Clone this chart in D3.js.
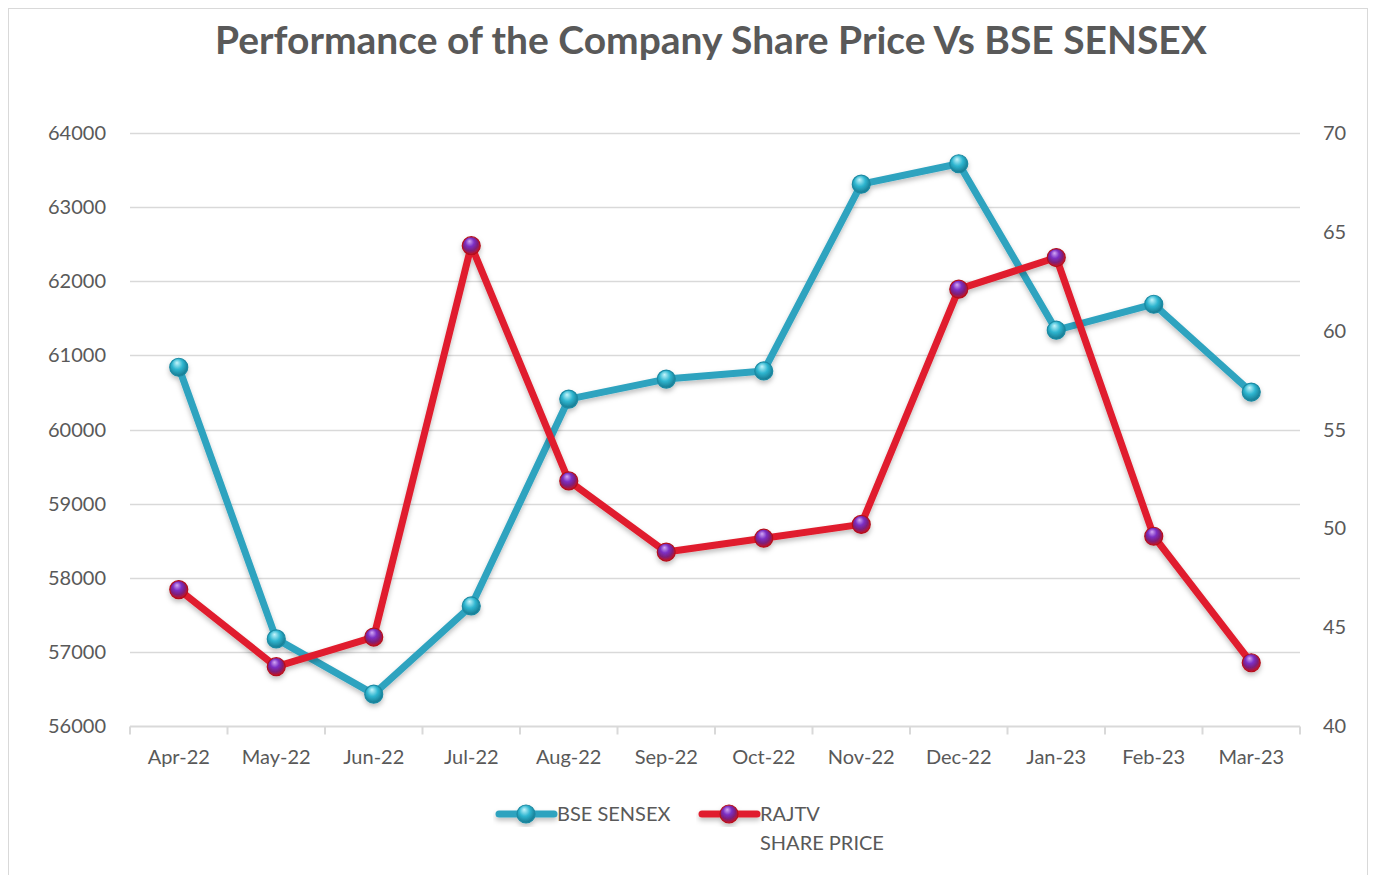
<!DOCTYPE html>
<html>
<head>
<meta charset="utf-8">
<script src="https://cdn.jsdelivr.net/npm/d3@7"></script>
<style>
  body { margin: 0; background: #fff; }
  text { font-family: Lato, "Open Sans", sans-serif; fill: #595959; }
</style>
</head>
<body>
<svg id="chart"></svg>
<script>
var width = 1375;
var height = 875;
var margin = { top: 133, right: 75, bottom: 149, left: 130 };

var months = ["Apr-22", "May-22", "Jun-22", "Jul-22", "Aug-22", "Sep-22",
              "Oct-22", "Nov-22", "Dec-22", "Jan-23", "Feb-23", "Mar-23"];
var sensex = [60840, 57175, 56430, 57620, 60410, 60680,
              60790, 63310, 63585, 61340, 61690, 60505];
var rajtv = [46.9, 43.0, 44.5, 64.3, 52.4, 48.8,
             49.5, 50.2, 62.1, 63.7, 49.6, 43.2];
var leftTicks = [56000, 57000, 58000, 59000, 60000, 61000, 62000, 63000, 64000];
var rightTicks = [40, 45, 50, 55, 60, 65, 70];

var svg = d3.select("#chart")
  .attr("width", width)
  .attr("height", height);

var defs = svg.append("defs");

function sphere(id, stops) {
  var g = defs.append("radialGradient")
    .attr("id", id)
    .attr("cx", "45%").attr("cy", "40%").attr("r", "60%")
    .attr("fx", "40%").attr("fy", "25%");
  stops.forEach(function(s) {
    g.append("stop").attr("offset", s[0]).attr("stop-color", s[1]);
  });
}
sphere("blueBall", [["0%", "#c4f5fc"], ["50%", "#2fb6d0"], ["100%", "#16778e"]]);
sphere("redBall", [["0%", "#d3a8f5"], ["40%", "#7b2fc4"], ["70%", "#7e1f7a"], ["100%", "#c8111f"]]);

var shadow = defs.append("filter").attr("id", "shadow")
  .attr("x", "-10%").attr("y", "-10%").attr("width", "120%").attr("height", "130%");
shadow.append("feDropShadow")
  .attr("dx", 0).attr("dy", 3).attr("stdDeviation", 2.5)
  .attr("flood-color", "#000").attr("flood-opacity", 0.25);

// chart border
svg.append("rect")
  .attr("x", 8.5).attr("y", 8.5)
  .attr("width", 1359).attr("height", 880)
  .attr("fill", "none")
  .attr("stroke", "#d9d9d9");

var x = d3.scaleBand()
  .domain(months)
  .range([margin.left, width - margin.right]);

var yL = d3.scaleLinear()
  .domain([56000, 64000])
  .range([height - margin.bottom, margin.top]);

var yR = d3.scaleLinear()
  .domain([40, 70])
  .range([height - margin.bottom, margin.top]);

// gridlines
svg.append("g")
  .selectAll("line")
  .data(leftTicks.slice(1))
  .enter()
    .append("line")
      .attr("x1", margin.left)
      .attr("x2", width - margin.right)
      .attr("y1", function(d) { return Math.round(yL(d)) + 0.5; })
      .attr("y2", function(d) { return Math.round(yL(d)) + 0.5; })
      .attr("stroke", "#d9d9d9")
      .attr("stroke-width", 1.5);

// left axis labels
svg.append("g")
  .selectAll("text")
  .data(leftTicks)
  .enter()
    .append("text")
      .attr("x", 106)
      .attr("y", function(d) { return yL(d); })
      .attr("dy", "0.35em")
      .style("text-anchor", "end")
      .style("font-size", "20px")
      .text(function(d) { return d; });

// right axis labels
svg.append("g")
  .selectAll("text")
  .data(rightTicks)
  .enter()
    .append("text")
      .attr("x", 1323)
      .attr("y", function(d) { return yR(d); })
      .attr("dy", "0.35em")
      .style("text-anchor", "start")
      .style("font-size", "20px")
      .text(function(d) { return d; });

// x axis
var xAxis = svg.append("g")
  .attr("transform", "translate(0," + (Math.round(yL(56000)) + 0.5) + ")");
xAxis.append("line")
  .attr("x1", margin.left).attr("x2", width - margin.right)
  .attr("stroke", "#d9d9d9").attr("stroke-width", 2);
xAxis.selectAll("line.tick")
  .data(months.concat(["end"]))
  .enter()
    .append("line")
      .attr("class", "tick")
      .attr("x1", function(d, i) { return margin.left + i * x.step(); })
      .attr("x2", function(d, i) { return margin.left + i * x.step(); })
      .attr("y1", 0).attr("y2", 8)
      .attr("stroke", "#d9d9d9").attr("stroke-width", 2);
xAxis.selectAll("text")
  .data(months)
  .enter()
    .append("text")
      .attr("x", function(d) { return x(d) + x.bandwidth() / 2; })
      .attr("y", 37)
      .style("text-anchor", "middle")
      .style("font-size", "20px")
      .text(function(d) { return d; });

function drawSeries(values, yScale, color, ball, ring) {
  var line = d3.line()
    .x(function(d, i) { return x(months[i]) + x.bandwidth() / 2; })
    .y(function(d) { return yScale(d); });
  var g = svg.append("g").attr("filter", "url(#shadow)");
  g.append("path")
    .datum(values)
    .attr("d", line)
    .attr("fill", "none")
    .attr("stroke", color)
    .attr("stroke-width", 7)
    .attr("stroke-linejoin", "round");
  g.selectAll("circle")
    .data(values)
    .enter()
      .append("circle")
        .attr("cx", function(d, i) { return x(months[i]) + x.bandwidth() / 2; })
        .attr("cy", function(d) { return yScale(d); })
        .attr("r", 9)
        .attr("fill", "url(#" + ball + ")")
        .attr("stroke", ring)
        .attr("stroke-width", 1.2);
}

drawSeries(sensex, yL, "#2fa3bf", "blueBall", "#1b8aa3");
drawSeries(rajtv, yR, "#e01f2d", "redBall", "#b5101c");

// legend
function legendItem(x0, color, ball, ring) {
  var g = svg.append("g").attr("filter", "url(#shadow)");
  g.append("line")
    .attr("x1", x0).attr("x2", x0 + 55)
    .attr("y1", 814).attr("y2", 814)
    .attr("stroke", color).attr("stroke-width", 7)
    .attr("stroke-linecap", "round");
  g.append("circle")
    .attr("cx", x0 + 27).attr("cy", 814).attr("r", 9)
    .attr("fill", "url(#" + ball + ")")
    .attr("stroke", ring)
    .attr("stroke-width", 1.2);
}
legendItem(499, "#2fa3bf", "blueBall", "#1b8aa3");
legendItem(702, "#e01f2d", "redBall", "#b5101c");

svg.append("text")
  .attr("x", 557).attr("y", 814).attr("dy", "0.35em")
  .style("font-size", "20px")
  .text("BSE SENSEX");
svg.append("text")
  .attr("x", 760).attr("y", 814).attr("dy", "0.35em")
  .style("font-size", "20px")
  .text("RAJTV");
svg.append("text")
  .attr("x", 760).attr("y", 843).attr("dy", "0.35em")
  .style("font-size", "20px")
  .text("SHARE PRICE");

// title
var title = svg.append("text")
  .attr("x", 711)
  .attr("y", 54)
  .style("text-anchor", "middle")
  .style("font-size", "36px")
  .style("font-weight", "bold")
  .text("Performance of the Company Share Price Vs BSE SENSEX");
var tw = title.node().getComputedTextLength();
title.style("font-size", (36 * 992 / tw) + "px");
</script>
</body>
</html>
